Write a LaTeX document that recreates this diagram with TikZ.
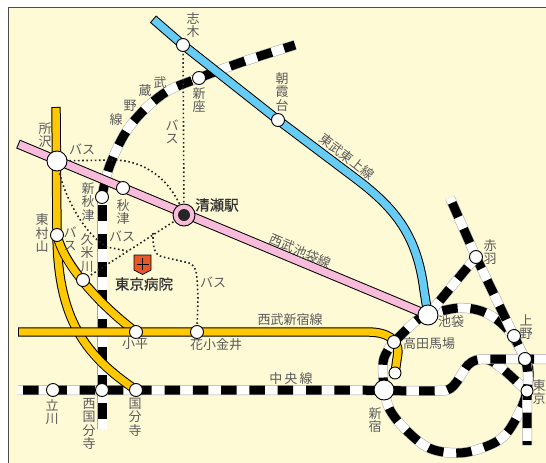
\documentclass[tikz,border=0pt]{standalone}
\usepackage{fontspec}
\setmainfont{Noto Sans CJK JP}
\newfontfamily\fatfont[FakeBold=0.5]{Noto Sans CJK JP}
\usetikzlibrary{backgrounds}
\definecolor{cream}{HTML}{FFFAD6}
\definecolor{lblue}{HTML}{66CCF5}
\definecolor{lpink}{HTML}{F8BBD9}
\definecolor{lyellow}{HTML}{FFC800}
\definecolor{txt}{HTML}{5A5A5A}
\definecolor{hosp}{HTML}{E8562A}
\tikzset{
  rail/.style={line width=9,draw=white,preaction={draw=gray!70,line width=10},
    postaction={draw=black,dash pattern=on 15.5 off 12.8,dash phase=#1}},
  rail/.default=0,
  cased/.style={line width=9.4,draw=black,postaction={draw=#1,line width=7.4,shorten <=1,shorten >=1}},
  bus/.style={draw=black!85,line width=1.6,dash pattern=on 1.6 off 2.6},
  stn/.style={circle,draw=black,fill=white,line width=0.9,minimum size=13,inner sep=0},
  bigstn/.style={circle,draw=black,fill=white,line width=0.9,minimum size=20,inner sep=0},
  lab/.style={text=txt,inner sep=0,align=center,font=\fontsize{13}{13.5}\selectfont},
  mainlab/.style={text=black!80,inner sep=0,font=\fatfont\fontsize{14.5}{15}\selectfont},
}
\begin{document}
\begin{tikzpicture}[x=1pt,y=-1pt]
\useasboundingbox (0,0) rectangle (546,463);
% stations
\node[bigstn] (tokorozawa) at (57,161) {};
\node[bigstn] (ikebukuro) at (428,315) {};
\node[bigstn] (shinjuku) at (384,390) {};
\node[circle,draw=black,fill=lpink,line width=0.9,minimum size=22,inner sep=0] (kiyose) at (184,215) {};
\node[circle,fill=black!85,minimum size=12,inner sep=0] (kiyosein) at (184,215) {};
\node[stn] (shiki) at (183,45) {};
\node[stn] (asaka) at (278,120) {};
\node[stn] (niiza) at (199,78) {};
\node[stn] (akitsu) at (123,188) {};
\node[stn] (shinakitsu) at (102,197) {};
\node[stn] (higashimura) at (57,235) {};
\node[stn] (kumegawa) at (83,280) {};
\node[stn] (kodaira) at (136,332) {};
\node[stn] (hanakoganei) at (197,332) {};
\node[stn] (tachikawa) at (53,390) {};
\node[stn] (nishikokubunji) at (102,390) {};
\node[stn] (kokubunji) at (136,390) {};
\node[stn] (takadanobaba) at (394,342) {};
\node[stn,minimum size=12] (seibushinjuku) at (395,373) {};
\node[stn] (akabane) at (476,257) {};
\node[stn] (ueno) at (514,336) {};
\node[stn] (akiba) at (525,359) {};
\node[stn,minimum size=12] (tokyo) at (527,391) {};
% free ends
\coordinate (musE) at (295,45);
\coordinate (musS) at (102,429);
\coordinate (tojoN) at (153,19);
\coordinate (pinkW) at (18,144);
\coordinate (yelN) at (56,107);
\coordinate (yelW) at (18,332);
\coordinate (chuoW) at (18,390);
\coordinate (chuoE) at (546,359);
\coordinate (keihinN) at (450,198);
\coordinate (keihinS) at (527,445);
\coordinate (junction) at (127,251);
\coordinate (busturn) at (153,233);
% lines
\begin{pgfonlayer}{background}
\fill[white] (0,0) rectangle (546,463);
\fill[cream] (8,7) rectangle (546,463);
\draw[black!70,line width=1] (8,463) -- (8,7) -- (546,7);
% Musashino
\draw[rail=4] plot[smooth,tension=0.6] coordinates {(musE) (245,61) (niiza.center) (163,94) (130,126) (110,165) (shinakitsu.center)};
\draw[rail=20] (shinakitsu.center) -- (musS);
% Yamanote
\draw[rail=3] plot[smooth,tension=0.6] coordinates {(shinjuku.center) (383,363) (388,350) (takadanobaba.center) (416,321) (ikebukuro.center) (459,308) (486,313) (509,331) (akiba.center) (529,372) (tokyo.center) (519,413) (503,437) (479,449) (456,453) (429,448) (406,430) (390,410) (shinjuku.center)};
% Chuo
\draw[rail=6] (486,359) .. controls (498,362) and (512,378) .. (tokyo.center);
\draw[rail=23.3] (chuoW) -- (350,390) .. controls (358,390) and (446,392) .. (447,390)
  .. controls (456,388) and (462,371) .. (468,365) .. controls (473,360) and (478,359) .. (486,359) -- (chuoE);
% Keihin-Tohoku
\draw[rail=23] (keihinN) -- (akabane.center) -- (ueno.center) -- (akiba.center)
  .. controls (528,368) and (529,380) .. (tokyo.center) -- (keihinS);
\draw[rail=10] (ikebukuro.center) -- (akabane.center);
% private lines
\draw[cased=lblue] (tojoN) -- (shiki.center) -- (asaka.center) -- (355,178)
  .. controls (395,208) and (417,235) .. (424,290) -- (ikebukuro.center);
\draw[cased=lpink] (pinkW) -- (ikebukuro.center);
\draw[cased=lyellow] (yelN) -- (higashimura.center)
  .. controls (58,320) and (85,355) .. (kokubunji.center);
\draw[cased=lyellow] (higashimura.center) .. controls (64,265) and (100,305) .. (kodaira.center);
\draw[cased=lyellow] (yelW) -- (368,332) .. controls (388,332) and (398,340) .. (398,352) -- (seibushinjuku.center);
% buses
\draw[bus] (kiyose.center) -- (shiki.center);
\draw[bus] (tokorozawa.center) -- (113,160) .. controls (145,160) and (172,180) .. (kiyose.center);
\draw[bus] (tokorozawa.center) .. controls (62,195) and (85,235) .. (107,247) -- (junction);
\draw[bus] (kiyose.center) -- (kumegawa.center);
\draw[bus] (busturn) .. controls (153,245) and (153,255) .. (163,257) -- (185,262)
  .. controls (197,264) and (197,270) .. (198,299) -- (hanakoganei.center);
\end{pgfonlayer}
% hospital
\draw[black,fill=hosp,line width=0.7] (134,255) -- (151,255) -- (151,270) -- (142.5,274.5) -- (134,270) -- cycle;
\draw[black,line width=1] (136.5,264) -- (148.5,264) (142.5,258) -- (142.5,270);
% labels
\node[lab] (l1) at (193,25) {志\\木};
\node[lab] (l2) at (199,100) {新\\座};
\node[lab] (l3) at (160,83) {武};
\node[lab] (l4) at (145,91) {蔵};
\node[lab] (l5) at (130,106) {野};
\node[lab] (l6) at (116,120) {線};
\node[lab] (l7) at (172,132) {バ\\ス};
\node[lab] (l8) at (282,92) {朝\\霞\\台};
\node[lab,rotate=-38] (l9) at (347,157) {東武東上線};
\node[lab] (l10) at (45,135) {所\\沢};
\node[lab] (l11) at (82,149) {バス};
\node[lab] (l12) at (88,202) {新\\秋\\津};
\node[lab] (l13) at (123,212) {秋\\津};
\node[lab] (l14) at (42,233) {東\\村\\山};
\node[lab] (l15) at (70,239) {バ\\ス};
\node[lab] (l16) at (87,253) {久\\米\\川};
\node[lab] (l17) at (122,236) {バス};
\node[lab] (l18) at (213,282) {バス};
\node[lab] (l19) at (135,344) {小平};
\node[lab] (l20) at (216,345) {花小金井};
\node[lab] (l21) at (290,320) {西武新宿線};
\node[lab,rotate=-23] (l22) at (300,251) {西武池袋線};
\node[lab] (l23) at (291,379) {中\,央\,線};
\node[lab] (l24) at (52,412) {立\\川};
\node[lab] (l25) at (89,424) {西\\国\\分\\寺};
\node[lab] (l26) at (135,417) {国\\分\\寺};
\node[lab] (l27) at (375,420) {新\\宿};
\node[lab] (l28) at (451,322) {池袋};
\node[lab] (l29) at (429,344) {高田馬場};
\node[lab] (l30) at (490,252) {赤\\羽};
\node[lab] (l31) at (526,327) {上\\野};
\node[lab] (l32) at (539,392) {東\\京};
\node[mainlab,anchor=west] (l33) at (195,205) {清瀬駅};
\node[mainlab] (l34) at (144,284) {東京病院};
\end{tikzpicture}
\end{document}
